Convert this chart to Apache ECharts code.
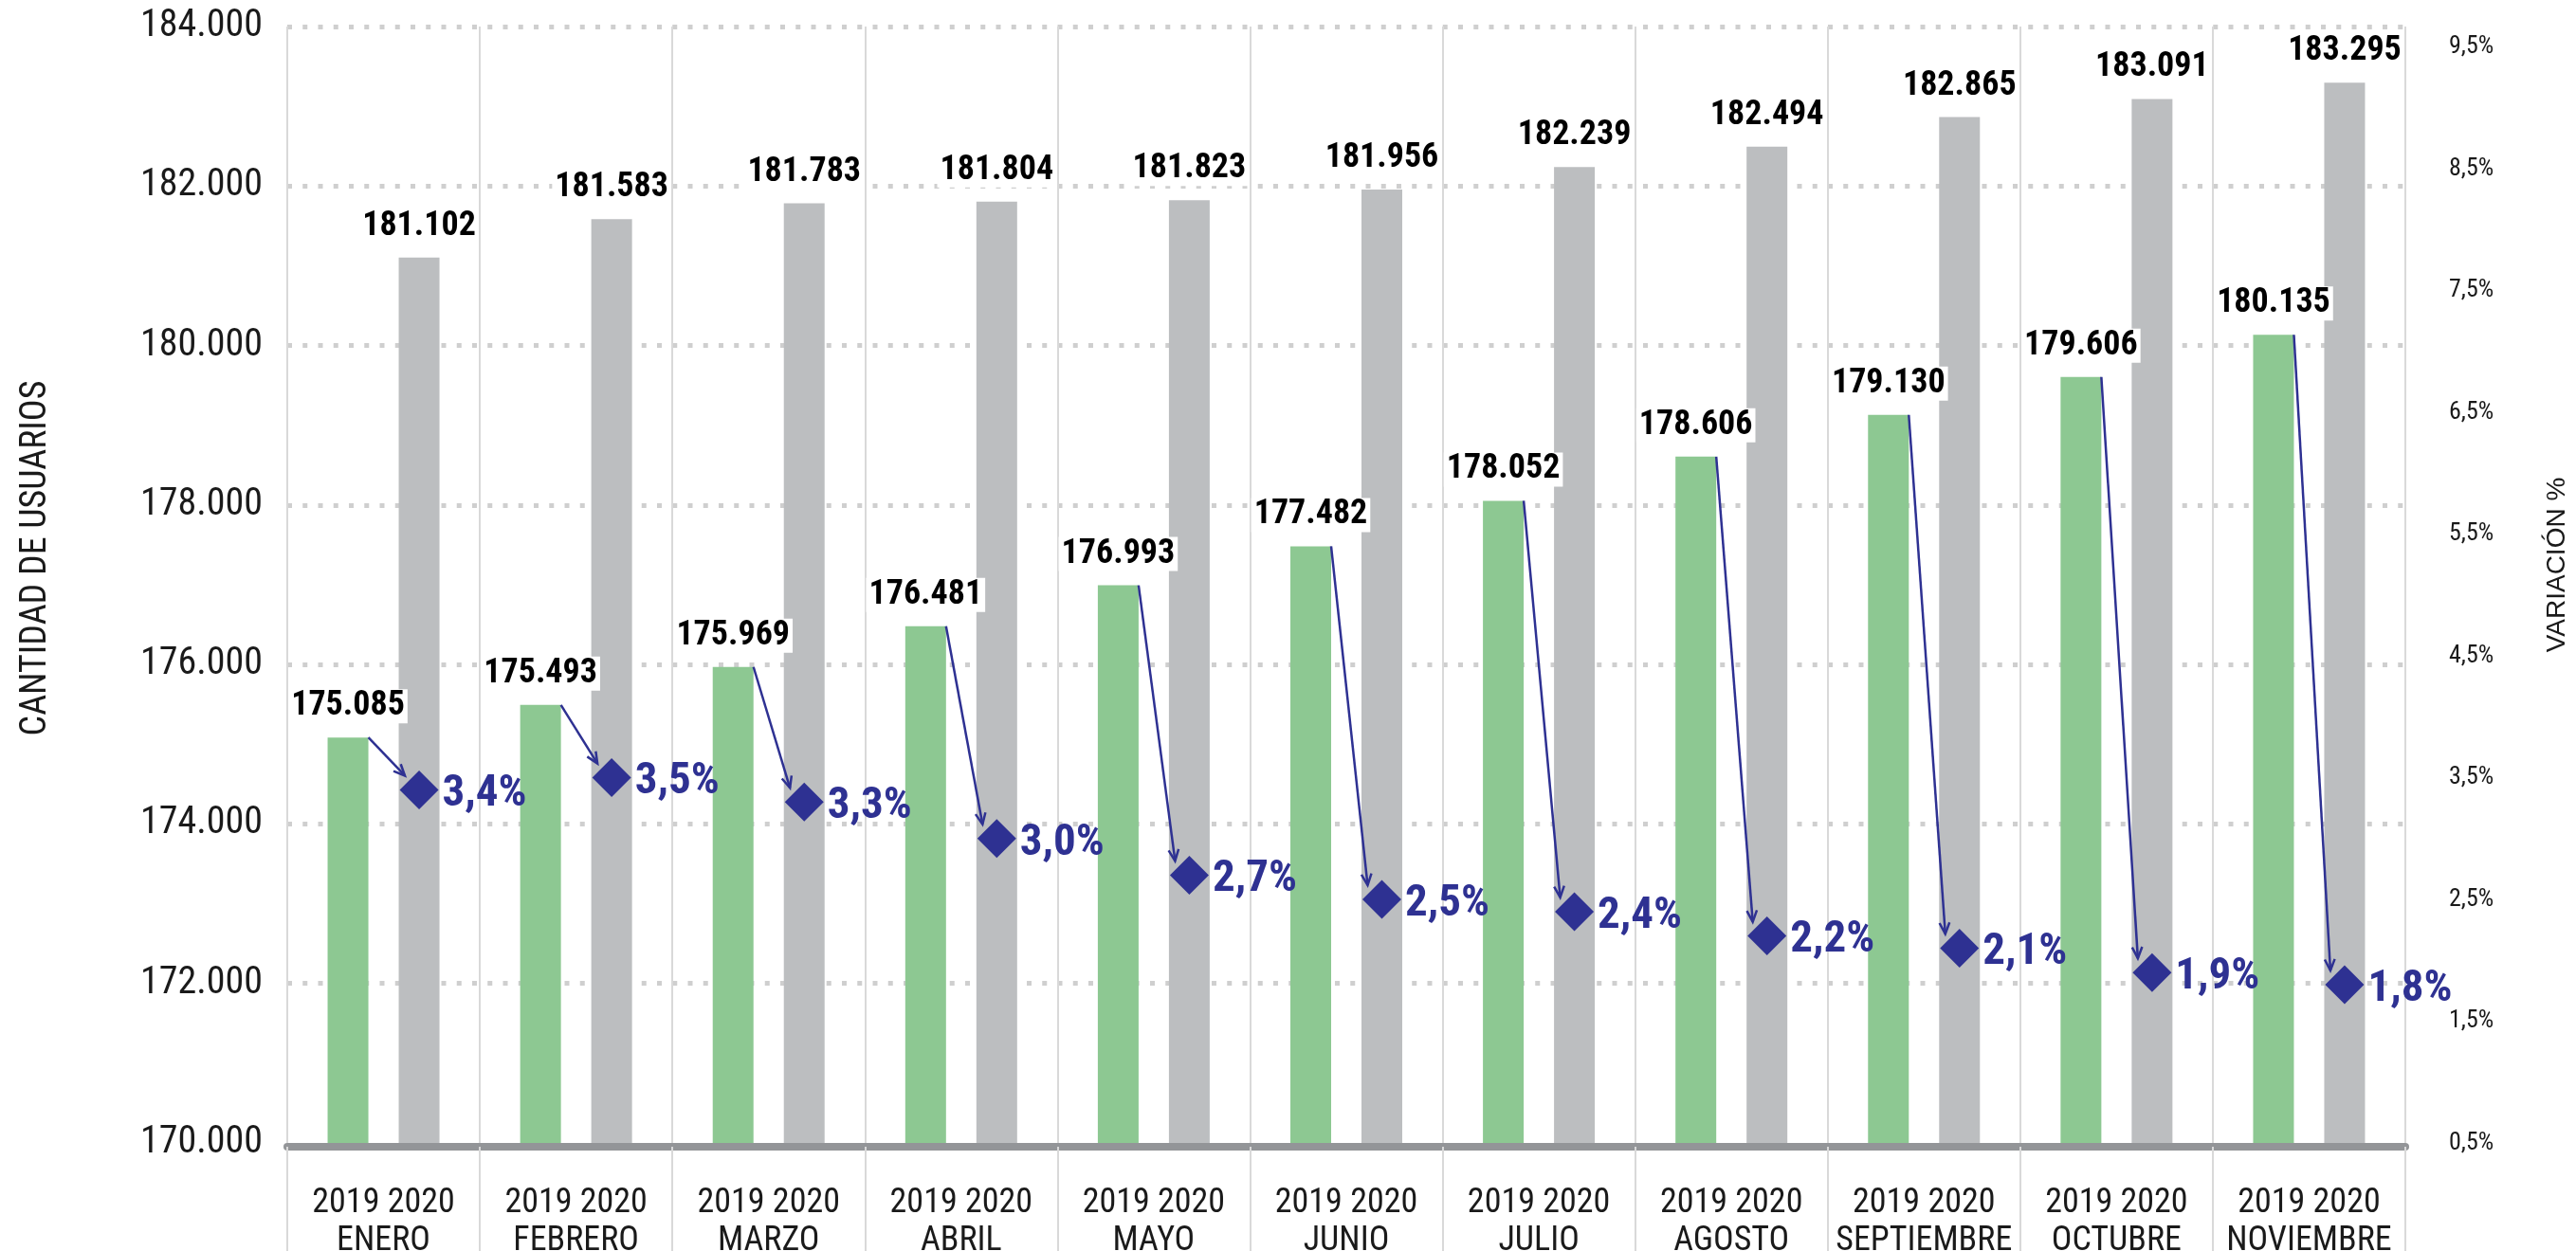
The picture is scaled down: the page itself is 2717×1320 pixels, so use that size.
<!DOCTYPE html>
<html>
<head>
<meta charset="utf-8">
<title>Cantidad de usuarios 2019 / 2020</title>
<script src="https://cdn.jsdelivr.net/npm/echarts@6/dist/echarts.min.js"></script>
<style>
  html, body { margin: 0; padding: 0; background: #ffffff; }
  #chart { width: 2717px; height: 1320px; }
</style>
</head>
<body>
<div id="chart"></div>
<script>
// ---- data ----
const months = ['ENERO', 'FEBRERO', 'MARZO', 'ABRIL', 'MAYO', 'JUNIO', 'JULIO', 'AGOSTO', 'SEPTIEMBRE', 'OCTUBRE', 'NOVIEMBRE'];
const yearLabels = ['2019', '2020'];
const users2019 = [175085, 175493, 175969, 176481, 176993, 177482, 178052, 178606, 179130, 179606, 180135];
const users2020 = [181102, 181583, 181783, 181804, 181823, 181956, 182239, 182494, 182865, 183091, 183295];
const variationPct = [3.4, 3.5, 3.3, 3.0, 2.7, 2.5, 2.4, 2.2, 2.1, 1.9, 1.8];
const userTicks = [170000, 172000, 174000, 176000, 178000, 180000, 182000, 184000];
const pctTicks = [0.5, 1.5, 2.5, 3.5, 4.5, 5.5, 6.5, 7.5, 8.5, 9.5];

// ---- styling ----
const NARROW = "'Liberation Sans Narrow', 'Arial Narrow', 'Roboto Condensed', 'DejaVu Sans Condensed', sans-serif";
const ARIAL = "'Liberation Sans', Arial, sans-serif";
const INK = '#1a1a1a';
const GREEN = '#8dc892';
const GREY = '#bcbec0';
const BLUE = '#2e3192';
const BAR_W = 43;          // bar width in px
const BAR_GAP = 32;        // gap between the 2019 and 2020 bars in px
const PAIR_SHIFT = (BAR_GAP + BAR_W) / 2;   // distance from band centre to each bar centre

const thousands = v => String(v).replace(/\B(?=(\d{3})+(?!\d))/g, '.');
const pctText = v => v.toFixed(1).replace('.', ',') + '%';

const chart = echarts.init(document.getElementById('chart'), null, { renderer: 'canvas' });

const barLabel = {
  show: true,
  position: 'top',
  distance: 15,
  formatter: p => thousands(p.value),
  fontFamily: NARROW,
  fontWeight: 'bold',
  fontSize: 36,
  lineHeight: 36,
  color: '#000000',
  backgroundColor: '#ffffff',
  padding: [0, 3]
};

const option = {
  backgroundColor: '#ffffff',
  animation: false,
  grid: { left: 303, right: 180, top: 28, bottom: 114, containLabel: false, outerBoundsMode: 'none' },
  xAxis: {
    type: 'category',
    data: months,
    offset: 4,
    axisLine: { show: true, lineStyle: { color: '#939598', width: 8 } },
    axisTick: { show: true, interval: 0, length: 110, lineStyle: { color: '#d9d9d9', width: 2 } },
    splitLine: { show: true, interval: 0, lineStyle: { color: '#d9d9d9', width: 2 } },
    axisLabel: {
      interval: 0,
      margin: 40,
      formatter: m => yearLabels.join(' ') + '\n' + m,
      fontFamily: NARROW,
      fontSize: 36,
      lineHeight: 40,
      color: INK
    }
  },
  yAxis: [
    {
      type: 'value',
      min: userTicks[0],
      max: userTicks[userTicks.length - 1],
      interval: userTicks[1] - userTicks[0],
      axisLine: { show: false },
      axisTick: { show: false },
      axisLabel: {
        margin: 26,
        formatter: v => thousands(v),
        fontFamily: NARROW,
        fontSize: 40,
        color: INK
      },
      splitLine: {
        show: true,
        showMinLine: false,
        lineStyle: { color: '#cfcfcf', width: 5, type: [5, 11.25] }
      },
      name: 'CANTIDAD DE USUARIOS',
      nameLocation: 'middle',
      nameRotate: 90,
      nameGap: 246,
      nameTextStyle: { fontFamily: NARROW, fontSize: 38, color: INK, padding: [0, 0, 0, 56] }
    },
    {
      type: 'value',
      min: pctTicks[0],
      max: 9.67,
      interval: 1,
      position: 'right',
      axisLine: { show: false },
      axisTick: { show: false },
      splitLine: { show: false },
      axisLabel: {
        margin: 46,
        formatter: v => pctTicks.some(t => Math.abs(t - v) < 1e-6) ? pctText(v) : '',
        fontFamily: NARROW,
        fontSize: 26,
        color: INK
      },
      name: 'VARIACIÓN %',
      nameLocation: 'middle',
      nameRotate: 90,
      nameGap: 146,
      nameTextStyle: { fontFamily: ARIAL, fontSize: 28, color: INK, padding: [0, 0, 0, 42] }
    }
  ],
  series: [
    {
      name: yearLabels[0],
      type: 'bar',
      data: users2019,
      barWidth: BAR_W,
      barGap: (BAR_GAP / BAR_W * 100) + '%',
      itemStyle: { color: GREEN },
      label: barLabel
    },
    {
      name: yearLabels[1],
      type: 'bar',
      data: users2020,
      barWidth: BAR_W,
      itemStyle: { color: GREY },
      label: barLabel
    },
    {
      name: 'Variación',
      type: 'scatter',
      yAxisIndex: 1,
      data: variationPct,
      symbol: 'diamond',
      symbolSize: 41,
      symbolOffset: [PAIR_SHIFT, 0],
      itemStyle: { color: BLUE, opacity: 1 },
      z: 5,
      label: {
        show: true,
        position: 'right',
        distance: 4,
        offset: [0, 5],
        formatter: p => pctText(p.value),
        fontFamily: NARROW,
        fontWeight: 'bold',
        fontSize: 47,
        color: BLUE,
        opacity: 1
      }
    }
  ]
};

chart.setOption(option);

// Arrows from the top-right corner of each 2019 bar to its variation marker
const HEAD = 13;
const arrows = [];
users2019.forEach((v, i) => {
  const from = chart.convertToPixel({ xAxisIndex: 0, yAxisIndex: 0 }, [i, v]);
  const to = chart.convertToPixel({ xAxisIndex: 0, yAxisIndex: 1 }, [i, variationPct[i]]);
  const x0 = from[0] - BAR_GAP / 2, y0 = from[1];
  const x1 = to[0] + PAIR_SHIFT - 15, y1 = to[1] - 15;
  const a = Math.atan2(y1 - y0, x1 - x0);
  const spread = 0.42;
  arrows.push({
    type: 'line',
    z: 100,
    shape: { x1: x0, y1: y0, x2: x1, y2: y1 },
    style: { stroke: BLUE, lineWidth: 2.5 }
  });
  arrows.push({
    type: 'polyline',
    z: 100,
    shape: {
      points: [
        [x1 - HEAD * Math.cos(a - spread), y1 - HEAD * Math.sin(a - spread)],
        [x1, y1],
        [x1 - HEAD * Math.cos(a + spread), y1 - HEAD * Math.sin(a + spread)]
      ]
    },
    style: { stroke: BLUE, lineWidth: 2.5, fill: null }
  });
});

chart.setOption({ graphic: { elements: arrows } });
</script>
</body>
</html>
